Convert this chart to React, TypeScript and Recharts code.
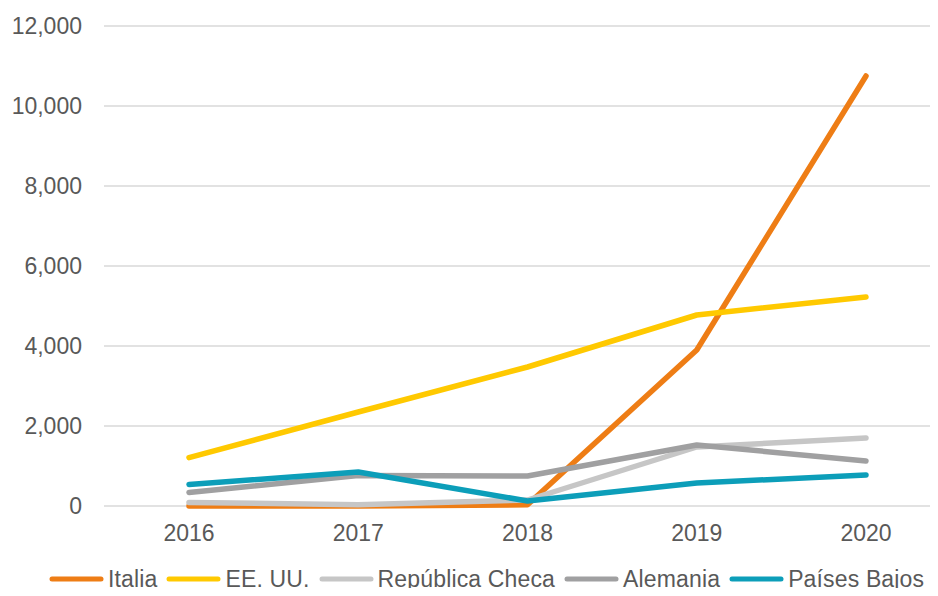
import React from "react";
import {
  LineChart,
  Line,
  XAxis,
  YAxis,
  CartesianGrid,
  Legend,
} from "recharts";

const years = ["2016", "2017", "2018", "2019", "2020"];
const italia = [0, 0, 30, 3900, 10750];
const eeuu = [1210, 2350, 3475, 4775, 5225];
const republicaCheca = [90, 30, 150, 1475, 1700];
const alemania = [340, 760, 750, 1525, 1125];
const paisesBajos = [540, 850, 125, 575, 775];
const yTicks = [0, 2000, 4000, 6000, 8000, 10000, 12000];

const series = [
  { key: "italia", name: "Italia", color: "#EE7D15", values: italia },
  { key: "eeuu", name: "EE. UU.", color: "#FFC900", values: eeuu },
  { key: "checa", name: "República Checa", color: "#C6C6C6", values: republicaCheca },
  { key: "alemania", name: "Alemania", color: "#A0A0A1", values: alemania },
  { key: "bajos", name: "Países Bajos", color: "#0C9EB9", values: paisesBajos },
];

const data = years.map((year, i) => {
  const row: Record<string, string | number> = { year };
  series.forEach((s) => {
    row[s.key] = s.values[i];
  });
  return row;
});

const font = "'Liberation Sans', Arial, sans-serif";
const textColor = "#595959";

// legend keeps the series order (the default one sorts by name)
function LegendContent() {
  return (
    <div
      style={{
        position: "relative",
        top: -7,
        display: "flex",
        alignItems: "center",
        height: 24,
        lineHeight: "24px",
        paddingLeft: 49,
        fontFamily: font,
        fontSize: 23,
        letterSpacing: 0.15,
        color: textColor,
        whiteSpace: "nowrap",
      }}
    >
      {series.map((s) => (
        <span
          key={s.key}
          style={{ display: "inline-flex", alignItems: "center", marginRight: 9 }}
        >
          <svg width={55} height={8} style={{ marginRight: 4 }}>
            <line
              x1={3}
              y1={4}
              x2={52}
              y2={4}
              stroke={s.color}
              strokeWidth={5}
              strokeLinecap="round"
            />
          </svg>
          <span>{s.name}</span>
        </span>
      ))}
    </div>
  );
}

export default function App() {
  return (
    <div style={{ margin: -8, width: 938, height: 596, overflow: "hidden", background: "#fff" }}>
      <LineChart
        width={951}
        height={598}
        data={data}
        margin={{ top: 26, right: 0, bottom: 0, left: 0 }}
      >
        <CartesianGrid vertical={false} stroke="#D9D9D9" strokeWidth={1.5} />
        <XAxis
          dataKey="year"
          axisLine={false}
          tickLine={false}
          tickSize={0}
          tickMargin={19}
          height={68}
          padding={{ left: 85, right: 85 }}
          tick={{ fill: textColor, fontSize: 23, fontFamily: font }}
        />
        <YAxis
          domain={[0, 12000]}
          ticks={yTicks}
          axisLine={false}
          tickLine={false}
          tickSize={0}
          tickMargin={22}
          width={104}
          tickFormatter={(v: number) => v.toLocaleString("en-US")}
          tick={{ fill: textColor, fontSize: 23, fontFamily: font }}
        />
        <Legend verticalAlign="bottom" content={<LegendContent />} />
        {series.map((s) => (
          <Line
            key={s.key}
            dataKey={s.key}
            name={s.name}
            stroke={s.color}
            strokeWidth={5.5}
            strokeLinecap="round"
            strokeLinejoin="round"
            dot={false}
            type="linear"
            isAnimationActive={false}
          />
        ))}
      </LineChart>
    </div>
  );
}
